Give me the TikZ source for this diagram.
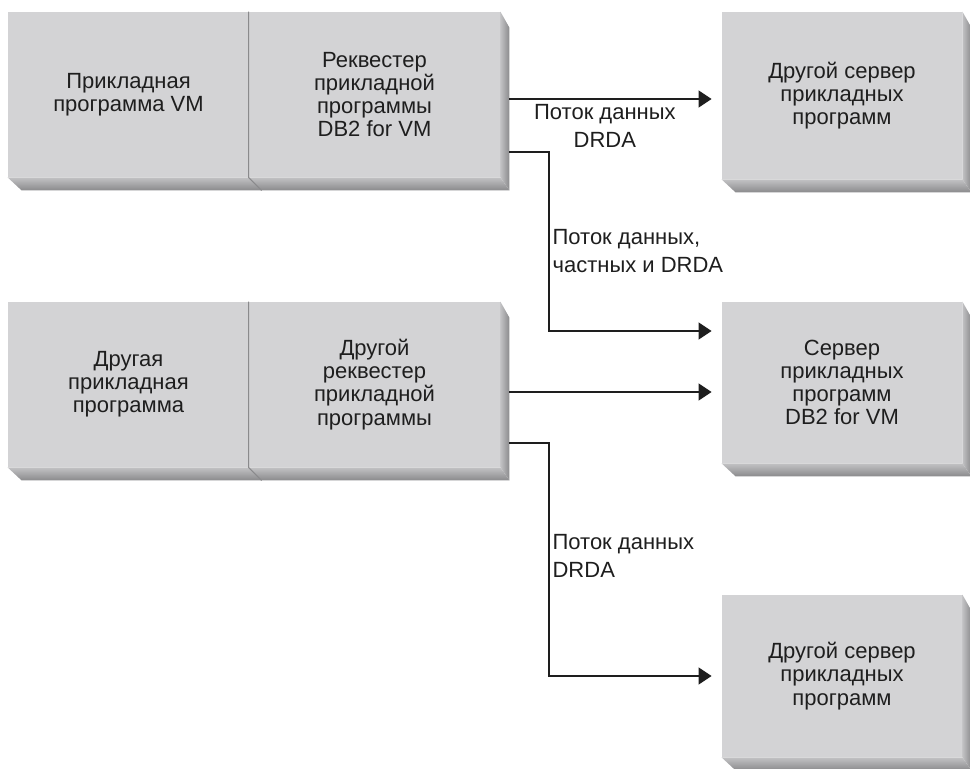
\documentclass[tikz,border=0pt]{standalone}
\usepackage{fontspec}
\setmainfont{Liberation Sans}
\usetikzlibrary{arrows.meta}
\definecolor{facegray}{HTML}{D3D3D5}
\definecolor{bevlight}{HTML}{C2C2C4}
\definecolor{bevdark}{HTML}{8A8A8C}
\definecolor{inkgray}{HTML}{1E1E1E}
\tikzset{
  face/.style={fill=facegray, text=inkgray, align=center, inner sep=0pt,
    font=\fontsize{11}{11.6}\selectfont},
  flow/.style={draw=inkgray, line width=0.6pt, -{Triangle[length=6.5pt,width=8.5pt]}, shorten >=5pt},
  flowlabel/.style={text=inkgray, inner sep=1.5pt, font=\fontsize{11}{13.7}\selectfont}
}
\begin{document}
\begin{tikzpicture}[x=0.5pt,y=-0.5pt]
	\useasboundingbox (0,0) rectangle (970,768);
	\node [face, minimum width=120.5pt, minimum height=82.5pt](AppVM) at (128.5,94.5) {Прикладная\\программа VM};
	\node [face, minimum width=125.5pt, minimum height=82.5pt](ReqVM) at (374.5,94.5) {Реквестер\\прикладной\\программы\\DB2 for VM};
	\node [face, minimum width=120.5pt, minimum height=82.5pt](AppOther) at (128.5,384.5) {Другая\\прикладная\\программа};
	\node [face, minimum width=125.5pt, minimum height=82.5pt](ReqOther) at (374.5,384.5) {Другой\\реквестер\\прикладной\\программы};
	\node [face, minimum width=120pt, minimum height=83.5pt](SrvOther) at (842,95.5) {Другой сервер\\прикладных\\программ};
	\node [face, minimum width=120pt, minimum height=80.5pt](SrvVM) at (842,382.5) {Сервер\\прикладных\\программ\\DB2 for VM};
	\node [face, minimum width=120pt, minimum height=81pt](SrvOther2) at (842,676) {Другой сервер\\прикладных\\программ};

	\foreach \l/\r in {AppVM/ReqVM, AppOther/ReqOther, SrvOther/SrvOther, SrvVM/SrvVM, SrvOther2/SrvOther2} {
		\shade [top color=bevlight, bottom color=bevdark] (\l.south west) -- (\r.south east) -- ([shift={(9,13)}]\r.south east) -- ([shift={(14,13)}]\l.south west) -- cycle;
		\shade [left color=bevlight, right color=bevdark] (\r.north east) -- ([shift={(9,16)}]\r.north east) -- ([shift={(9,13)}]\r.south east) -- (\r.south east) -- cycle;
	}
	\draw [bevdark, line width=0.5pt](ReqVM.north west) -- (ReqVM.south west) -- ++(13,13);
	\draw [bevdark, line width=0.5pt](ReqOther.north west) -- (ReqOther.south west) -- ++(13,13);

	\coordinate (knee) at (549,0);
	\coordinate (OutA) at ([shift={(9,4.5)}]ReqVM.east);
	\coordinate (OutB) at ([shift={(9,57.5)}]ReqVM.east);
	\coordinate (OutC) at ([shift={(9,7.5)}]ReqOther.east);
	\coordinate (OutD) at ([shift={(9,58.5)}]ReqOther.east);
	\coordinate (InVM) at ([shift={(0,-51.5)}]SrvVM.west);

	\draw [flow](OutA) -- (OutA -| SrvOther.west) node [flowlabel, pos=0.45, below=1pt, align=center] {Поток данных\\DRDA};
	\draw [flow](OutB) -- (OutB -| knee) -- (knee |- InVM) node [flowlabel, pos=0.553, anchor=west, align=left] {Поток данных,\\частных и DRDA} -- (InVM);
	\draw [flow](OutC) -- (OutC -| SrvVM.west);
	\draw [flow](OutD) -- (OutD -| knee) -- (knee |- SrvOther2.west) node [flowlabel, pos=0.485, anchor=west, align=left] {Поток данных\\DRDA} -- (SrvOther2.west);
\end{tikzpicture}
\end{document}
